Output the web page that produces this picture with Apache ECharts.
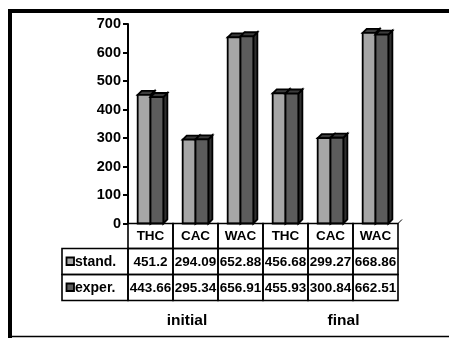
<!DOCTYPE html>
<html>
<head>
<meta charset="utf-8">
<script src="https://cdn.jsdelivr.net/npm/echarts@6/dist/echarts.min.js"></script>
<style>
  html, body { margin: 0; padding: 0; background: #fff; }
  #chart { width: 449px; height: 338px; }
</style>
</head>
<body>
<div id="chart"></div>
<script>
// Measured components per sample and stage
const categories = ['THC', 'CAC', 'WAC', 'THC', 'CAC', 'WAC'];
const groups = ['initial', 'final'];
const seriesNames = ['stand.', 'exper.'];
const standValues = [451.2, 294.09, 652.88, 456.68, 299.27, 668.86];
const experValues = [443.66, 295.34, 656.91, 455.93, 300.84, 662.51];
const yTicks = [0, 100, 200, 300, 400, 500, 600, 700];

const FONT = '"Liberation Sans", Arial, sans-serif';
const LIGHT = '#a6a6a6';
const DARK = '#5c5c5c';

// 3D-looking bar: front face, top face and right side face
function barRenderer(slot, fill) {
  return function (params, api) {
    const i = api.value(0);
    const v = api.value(1);
    const base = api.coord([i, 0]);
    const top = api.coord([i, v]);
    const band = api.size([1, 0])[0];
    const w = band * 0.285;
    const d = band * 0.09;
    const x0 = slot === 0 ? base[0] - w : base[0];
    const yt = top[1], yb = base[1];
    const stroke = { stroke: '#000', lineWidth: 1.8, lineJoin: 'miter' };
    return {
      type: 'group',
      children: [
        { type: 'polygon', shape: { points: [[x0 + w, yt], [x0 + w + d, yt - d], [x0 + w + d, yb - d], [x0 + w, yb]] },
          style: Object.assign({ fill: '#303030' }, stroke) },
        { type: 'polygon', shape: { points: [[x0, yt], [x0 + d, yt - d], [x0 + w + d, yt - d], [x0 + w, yt]] },
          style: Object.assign({ fill: '#3c3c3c' }, stroke) },
        { type: 'rect', shape: { x: x0, y: yt, width: w, height: yb - yt },
          style: Object.assign({ fill: fill }, stroke) }
      ]
    };
  };
}

// Data table under the plot: category header, then one row per series
const rowH = [25, 26, 26];
function tableRenderer(params, api) {
  const i = api.value(0);
  const base = api.coord([i, 0]);
  const band = api.size([1, 0])[0];
  const x = base[0] - band / 2;
  const y0 = base[1];
  const cellStroke = { fill: 'none', stroke: '#000', lineWidth: 1.6 };
  const txt = (t, cx, cy, size, align) => ({
    type: 'text',
    style: { text: t, x: cx, y: cy, align: align || 'center', verticalAlign: 'middle',
             font: 'bold ' + size + 'px ' + FONT, fill: '#000' }
  });
  const rows = [categories[i], String(standValues[i]), String(experValues[i])];
  const children = [];
  let y = y0;
  rows.forEach((t, r) => {
    children.push({ type: 'rect', shape: { x: x, y: y, width: band, height: rowH[r] }, style: cellStroke });
    children.push(txt(t, x + band / 2, y + rowH[r] / 2 + 0.5, 13.5));
    y += rowH[r];
  });
  if (i === 0) {
    // legend keys column
    const lw = 66;
    let yy = y0 + rowH[0];
    [LIGHT, DARK].forEach((c, r) => {
      const h = rowH[r + 1];
      children.push({ type: 'rect', shape: { x: x - lw, y: yy, width: lw, height: h }, style: cellStroke });
      children.push({ type: 'rect', shape: { x: x - lw + 4.5, y: yy + h / 2 - 4, width: 7.5, height: 7.5 },
                      style: { fill: c, stroke: '#000', lineWidth: 1.8 } });
      children.push(txt(seriesNames[r], x - lw + 13, yy + h / 2 + 1, 14, 'left'));
      yy += h;
    });
  }
  return { type: 'group', children: children };
}

const chart = echarts.init(document.getElementById('chart'), null, { renderer: 'canvas' });

chart.setOption({
  backgroundColor: '#fff',
  animation: false,
  grid: { left: 128, top: 24, width: 270, bottom: 114.5 },
  xAxis: {
    type: 'category',
    data: categories,
    boundaryGap: true,
    axisLine: { show: false },
    axisTick: { show: false },
    axisLabel: { show: false },
    splitLine: { show: false }
  },
  yAxis: {
    type: 'value',
    min: yTicks[0],
    max: yTicks[yTicks.length - 1],
    interval: 100,
    axisLine: { show: true, lineStyle: { color: '#000', width: 2 } },
    axisTick: { show: true, inside: false, length: 5, lineStyle: { color: '#000', width: 2 } },
    axisLabel: { margin: 7, color: '#000', fontWeight: 'bold', fontSize: 14.5, fontFamily: FONT },
    splitLine: { show: false }
  },
  graphic: [
    // frame
    { type: 'line', shape: { x1: 10, y1: 9, x2: 10, y2: 338 }, style: { stroke: '#000', lineWidth: 4 } },
    { type: 'line', shape: { x1: 8, y1: 11, x2: 449, y2: 11 }, style: { stroke: '#000', lineWidth: 4 } },
    { type: 'line', shape: { x1: 8, y1: 336.5, x2: 449, y2: 336.5 }, style: { stroke: '#000', lineWidth: 1.5 } },
    // floor edge at the right end of the base
    { type: 'polyline', shape: { points: [[398, 223.5], [402, 219.5]] }, style: { stroke: '#000', lineWidth: 1 } },
    // group captions
    { type: 'text', style: { text: groups[0], x: 187, y: 321, align: 'center', verticalAlign: 'middle',
        font: 'bold 15.5px ' + FONT, fill: '#000' } },
    { type: 'text', style: { text: groups[1], x: 343.5, y: 321, align: 'center', verticalAlign: 'middle',
        font: 'bold 15.5px ' + FONT, fill: '#000' } }
  ],
  series: [
    { name: seriesNames[0], type: 'custom', renderItem: barRenderer(0, LIGHT),
      data: standValues.map((v, i) => [i, v]), z: 2 },
    { name: seriesNames[1], type: 'custom', renderItem: barRenderer(1, DARK),
      data: experValues.map((v, i) => [i, v]), z: 3 },
    { name: 'table', type: 'custom', renderItem: tableRenderer, clip: false,
      data: categories.map((c, i) => [i, 0]), z: 4 }
  ]
});
</script>
</body>
</html>
